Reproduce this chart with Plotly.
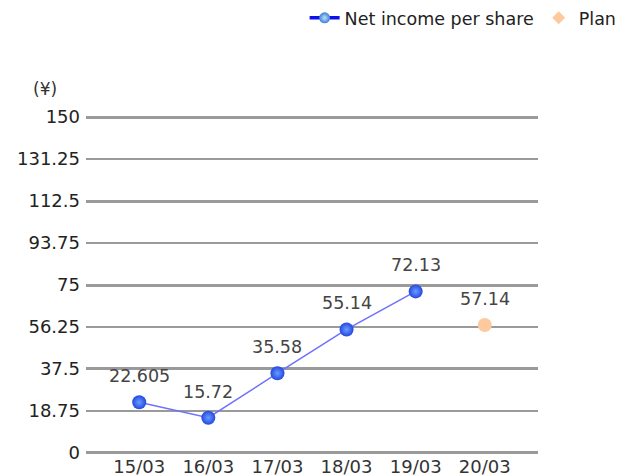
import plotly.graph_objects as go

# data
periods = ["15/03", "16/03", "17/03", "18/03", "19/03", "20/03"]
eps_periods = periods[:5]
eps_values = [22.605, 15.72, 35.58, 55.14, 72.13]
plan_periods = ["20/03"]
plan_values = [57.14]
eps_labels = ["22.605", "15.72", "35.58", "55.14", "72.13"]
plan_labels = ["57.14"]

y_ticks = [0, 18.75, 37.5, 56.25, 75, 93.75, 112.5, 131.25, 150]
y_ticktext = ["0", "18.75", "37.5", "56.25", "75", "93.75", "112.5", "131.25", "150"]
y_major = [0, 37.5, 75, 112.5, 150]

FONT = "DejaVu Sans"
GRID = "#9a9a9a"

fig = go.Figure()

# Net income per share line (legend handled by dummy trace below)
fig.add_trace(go.Scatter(
    x=eps_periods, y=eps_values,
    mode="lines+markers", showlegend=False,
    line=dict(color="#7070ff", width=1.5),
    marker=dict(size=14, color="#2448e0",
                gradient=dict(type="radial", color="#6a9cff"),
                line=dict(width=0)),
    hoverinfo="skip",
))

# Plan point (circle on chart, diamond in legend)
fig.add_trace(go.Scatter(
    x=plan_periods, y=plan_values,
    mode="markers", showlegend=False,
    marker=dict(size=14, color="#ffc99e", line=dict(width=0)),
    hoverinfo="skip",
))

# legend entries
fig.add_trace(go.Scatter(
    x=[None], y=[None],
    mode="lines+markers", name="Net income per share",
    line=dict(color="#1010ee", width=3.5),
    marker=dict(size=11, color="#3f7fd0",
                gradient=dict(type="radial", color="#b8e0ff"),
                line=dict(width=0)),
))
fig.add_trace(go.Scatter(
    x=[None], y=[None],
    mode="markers", name="Plan",
    marker=dict(size=10, symbol="diamond", color="#ffc99e"),
))

# thick gridlines on a twin axis
fig.add_trace(go.Scatter(
    x=periods, y=[None] * len(periods), yaxis="y2",
    mode="markers", showlegend=False, hoverinfo="skip",
))

# value labels above points
for xs, vals, labs in [(eps_periods, eps_values, eps_labels),
                       (plan_periods, plan_values, plan_labels)]:
    for x, v, t in zip(xs, vals, labs):
        fig.add_annotation(x=x, y=v, text=t, showarrow=False, yshift=26,
                           font=dict(family=FONT, size=17.5, color="#444444"))

fig.add_annotation(text="(¥)", xref="paper", yref="paper", x=-0.09, y=1.08,
                   showarrow=False, xanchor="center", yanchor="middle",
                   font=dict(family=FONT, size=17, color="#333333"))

yr = [-0.5, 150.5]
fig.update_layout(
    width=620, height=468,
    margin=dict(l=78, r=90, t=108, b=22, autoexpand=False),
    paper_bgcolor="white", plot_bgcolor="white",
    font=dict(family=FONT, color="#222222"),
    showlegend=True,
    legend=dict(orientation="h", x=1.185, xanchor="right", y=1.29, yanchor="middle",
                font=dict(family=FONT, size=17.5, color="#222222"),
                itemwidth=30, tracegroupgap=0),
    xaxis=dict(range=[-0.77, 5.77], showgrid=False, zeroline=False,
               showline=False, ticks="", tickfont=dict(size=18, color="#333333")),
    yaxis=dict(range=yr, tickmode="array", tickvals=y_ticks, ticktext=y_ticktext,
               showgrid=True, gridcolor=GRID, gridwidth=1.5, zeroline=False,
               showline=False, ticks="", ticklabelstandoff=5,
               tickfont=dict(size=18, color="#222222")),
    yaxis2=dict(range=yr, overlaying="y", tickmode="array", tickvals=y_major,
                showticklabels=False, showgrid=True, gridcolor=GRID, gridwidth=3,
                zeroline=False, showline=False, ticks=""),
)

fig.write_html("out.html")
